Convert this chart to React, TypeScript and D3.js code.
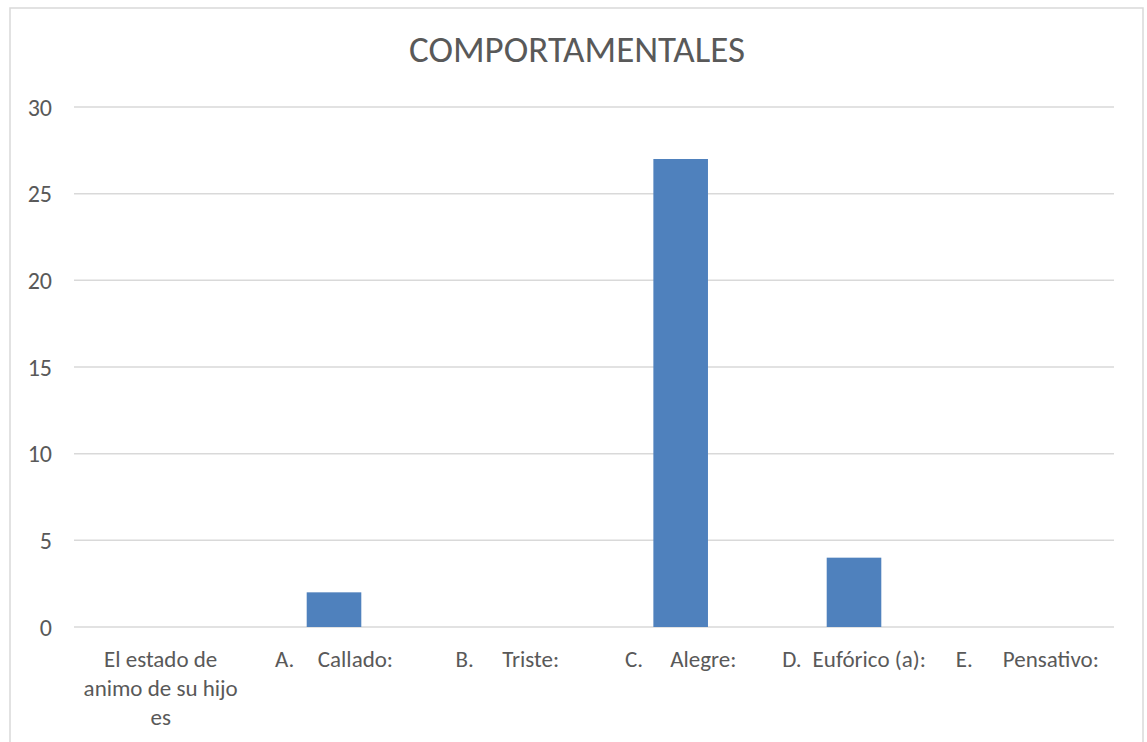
import React from "react";
import * as d3 from "d3";

const categoryPrefixes = ["", "A.", "B.", "C.", "D.", "E."];
const categoryNames = [
  ["El estado de", "animo de su hijo", "es"],
  ["Callado:"],
  ["Triste:"],
  ["Alegre:"],
  ["Eufórico (a):"],
  ["Pensativo:"],
];
const values = [0, 2, 0, 27, 4, 0];
const yTicks = [0, 5, 10, 15, 20, 25, 30];
const title = "COMPORTAMENTALES";
// tab gaps between list letter and text, as rendered
const tabGaps = [0, 24, 30, 27, 11, 30];

const W = 1147;
const H = 742;
const left = 74;
const right = 1114;
const top = 107;
const bottom = 627;
const FONT = "Carlito, Calibri, Lato, 'Open Sans', sans-serif";
const TEXT = "#595959";

export default function App() {
  const x = d3
    .scaleBand<number>()
    .domain(values.map((_, i) => i))
    .range([left, right])
    .paddingInner(0)
    .paddingOuter(0);
  const y = d3.scaleLinear().domain([0, 30]).range([bottom, top]);
  const barW = x.bandwidth() * 0.315;

  return (
    <svg
      width={W}
      height={H}
      style={{ position: "absolute", left: 0, top: 0, background: "#fff" }}
      fontFamily={FONT}
    >
      <rect x={10} y={8} width={1133} height={760} fill="#fff" stroke="#d9d9d9" strokeWidth={1.5} />
      <text x={577} y={62} textAnchor="middle" fontSize={37} fill={TEXT}>
        {title}
      </text>
      {yTicks.map((t) => (
        <g key={t}>
          <line x1={left} x2={right} y1={y(t)} y2={y(t)} stroke="#d9d9d9" strokeWidth={1.5} />
          <text x={52} y={y(t) + 8.5} textAnchor="end" fontSize={24} fill={TEXT}>
            {t}
          </text>
        </g>
      ))}
      {values.map((v, i) => {
        const cx = x(i)! + x.bandwidth() / 2;
        return (
          <rect
            key={i}
            x={cx - barW / 2}
            y={y(v)}
            width={barW}
            height={bottom - y(v)}
            fill="#4f81bd"
          />
        );
      })}
      {categoryNames.map((lines, i) => {
        const cx = x(i)! + x.bandwidth() / 2;
        const p = categoryPrefixes[i];
        if (!p) {
          return (
            <text key={i} x={cx} y={667} textAnchor="middle" fontSize={23} fill={TEXT}>
              {lines.map((l, j) => (
                <tspan key={j} x={cx} dy={j === 0 ? 0 : 29}>
                  {l}
                </tspan>
              ))}
            </text>
          );
        }
        return (
          <text key={i} x={cx} y={667} textAnchor="middle" fontSize={23} fill={TEXT}>
            <tspan>{p}</tspan>
            <tspan dx={tabGaps[i]}>{lines[0]}</tspan>
          </text>
        );
      })}
    </svg>
  );
}
